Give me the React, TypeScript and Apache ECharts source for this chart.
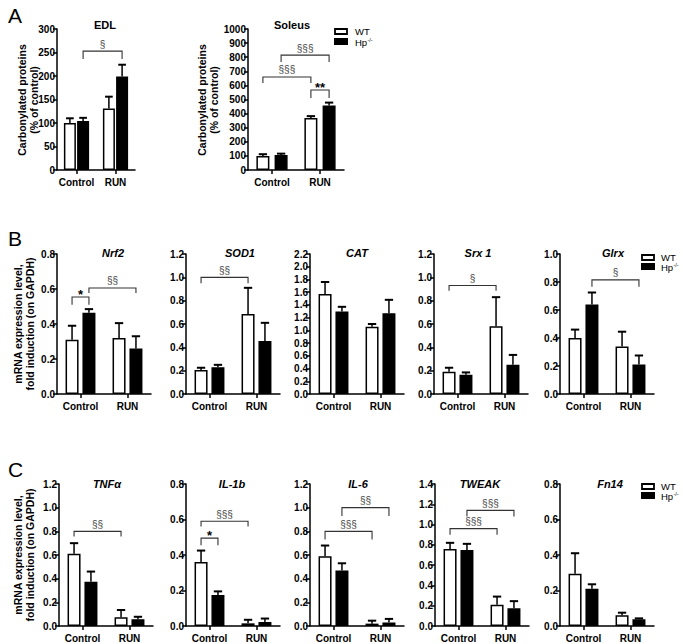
import React, { useEffect, useRef } from 'react';
import * as echarts from 'echarts';

const FONT = 'Arial, "Liberation Sans", Helvetica, sans-serif';

// ---------- data ----------
const categories = ['Control', 'RUN'];
const seriesNames = ['WT', 'Hp-/-'];

// Panel A: carbonylated proteins (% of control)
const titlesA = ['EDL', 'Soleus'];
const yMaxA = [300, 1000];
const yStepA = [50, 100];
const wtA = [[100, 131], [100, 368]];
const hpA = [[104, 199], [106, 458]];
const wtUpA = [[110, 156], [112, 382]];
const hpUpA = [[111, 224], [116, 478]];
// [cat1, group1, cat2, group2, lineValue, tickEndValue, label]
const bracketsA: any[][] = [
  [[0, 1, 1, 1, 253, 236, '§']],
  [[0, 1, 1, 1, 815, 766, '§§§'], [0, 0, 1, 0, 660, 617, '§§§'], [1, 0, 1, 1, 567, 510, '**']],
];

// Panel B: antioxidant genes
const genesB = ['Nrf2', 'SOD1', 'CAT', 'Srx 1', 'Glrx'];
const yMaxB = [0.8, 1.2, 2.2, 1.2, 1.0];
const wtB = [[0.31, 0.32], [0.205, 0.685], [1.57, 1.055], [0.19, 0.58], [0.40, 0.34]];
const hpB = [[0.465, 0.26], [0.23, 0.455], [1.295, 1.27], [0.165, 0.25], [0.64, 0.21]];
const wtUpB = [[0.39, 0.405], [0.225, 0.91], [1.76, 1.10], [0.225, 0.83], [0.46, 0.445]];
const hpUpB = [[0.485, 0.33], [0.25, 0.61], [1.37, 1.48], [0.185, 0.335], [0.725, 0.275]];
const bracketsB: any[][] = [
  [[0, 0, 0, 1, 0.554, 0.51, '*'], [0, 1, 1, 1, 0.606, 0.577, '§§']],
  [[0, 0, 1, 0, 1.0, 0.95, '§§']],
  [],
  [[0, 0, 1, 0, 0.93, 0.885, '§']],
  [[0, 1, 1, 1, 0.815, 0.766, '§']],
];

// Panel C: inflammatory genes
const genesC = ['TNFα', 'IL-1b', 'IL-6', 'TWEAK', 'Fn14'];
const yMaxC = [1.2, 0.8, 1.2, 1.4, 0.8];
const wtC = [[0.61, 0.075], [0.36, 0.015], [0.59, 0.02], [0.76, 0.21], [0.295, 0.06]];
const hpC = [[0.375, 0.058], [0.175, 0.022], [0.47, 0.03], [0.75, 0.175], [0.21, 0.038]];
const wtUpC = [[0.70, 0.135], [0.425, 0.035], [0.68, 0.045], [0.82, 0.29], [0.41, 0.075]];
const hpUpC = [[0.46, 0.078], [0.195, 0.042], [0.53, 0.06], [0.81, 0.245], [0.235, 0.043]];
const bracketsC: any[][] = [
  [[0, 0, 1, 0, 0.8, 0.757, '§§']],
  [[0, 0, 0, 1, 0.495, 0.455, '*'], [0, 0, 1, 0, 0.59, 0.56, '§§§']],
  [[0, 0, 1, 0, 0.8, 0.73, '§§§'], [0, 1, 1, 1, 1.0, 0.93, '§§']],
  [[0, 0, 1, 0, 0.96, 0.9, '§§§'], [0, 1, 1, 1, 1.14, 1.08, '§§§']],
  [],
];

const yNameA = 'Carbonylated proteins\n(% of control)';
const yNameBC = 'mRNA expression level,\nfold induction (on GAPDH)';
const panelLetters = ['A', 'B', 'C'];

// ---------- layout ----------
const leftsA = [57, 248];
const widthsA = [78, 96];
const barWA = [12, 13];
const gapA = [0.1, 0.4];
const titleXA = [105, 292];
const leftsB = [57, 186, 310, 434, 560];
const leftsC = [59, 186, 310, 435, 560];
const titleXB = [113, 240, 357, 478, 613];
const titleXC = [107, 232, 358, 480, 610];
const letterY = [15, 238, 469];
// y-axis name blocks: [centerX, centerY, text]
const yNames: [number, number, string][] = [
  [28, 100, yNameA],
  [208, 100, yNameA],
  [24, 324, yNameBC],
  [24, 555, yNameBC],
];
// legend anchors: [boxX, wtBoxY, hpBoxY, textX]
const legendPos = [
  [335, 29, 38, 355],
  [642, 255, 263, 661],
  [642, 484, 492, 661],
];

function buildOption() {
  const specs: any[] = [];
  titlesA.forEach((t, i) => specs.push({
    title: t, titleX: titleXA[i], titleY: 25, italic: false,
    left: leftsA[i], top: 29, width: widthsA[i], height: 141,
    max: yMaxA[i], step: yStepA[i], dec: 0,
    wt: wtA[i], hp: hpA[i], wtUp: wtUpA[i], hpUp: hpUpA[i], br: bracketsA[i],
    bw: barWA[i], gap: gapA[i],
  }));
  genesB.forEach((t, i) => specs.push({
    title: t, titleX: titleXB[i], titleY: 253, italic: true,
    left: leftsB[i], top: 254, width: 94, height: 140,
    max: yMaxB[i], step: 0.2, dec: 1,
    wt: wtB[i], hp: hpB[i], wtUp: wtUpB[i], hpUp: hpUpB[i], br: bracketsB[i],
    bw: 13, gap: 0.3,
  }));
  genesC.forEach((t, i) => specs.push({
    title: t, titleX: titleXC[i], titleY: 484, italic: true,
    left: leftsC[i], top: 484, width: 94, height: 142,
    max: yMaxC[i], step: 0.2, dec: 1,
    wt: wtC[i], hp: hpC[i], wtUp: wtUpC[i], hpUp: hpUpC[i], br: bracketsC[i],
    bw: 13, gap: 0.3,
  }));

  const grid: any[] = [];
  const xAxis: any[] = [];
  const yAxis: any[] = [];
  const series: any[] = [];
  const graphic: any[] = [];

  specs.forEach((s, i) => {
    grid.push({ left: s.left, top: s.top, width: s.width, height: s.height, outerBoundsMode: 'none' });
    xAxis.push({
      gridIndex: i, type: 'category', data: categories,
      axisLine: { show: true, lineStyle: { color: '#000', width: 1.5 } },
      axisTick: { show: true, alignWithLabel: true, length: 4, lineStyle: { color: '#000', width: 1.5 } },
      axisLabel: { color: '#000', fontFamily: FONT, fontSize: 10, fontWeight: 'bold', margin: 7, interval: 0 },
      splitLine: { show: false },
    });
    yAxis.push({
      gridIndex: i, type: 'value', min: 0, max: s.max, interval: s.step,
      axisLine: { show: true, lineStyle: { color: '#000', width: 1.5 } },
      axisTick: { show: true, length: 4, lineStyle: { color: '#000', width: 1.5 } },
      axisLabel: {
        color: '#000', fontFamily: FONT, fontSize: 10, fontWeight: 'bold', margin: 2,
        formatter: (v: number) => v.toFixed(s.dec),
      },
      splitLine: { show: false },
    });
    series.push({
      type: 'bar', name: seriesNames[0], xAxisIndex: i, yAxisIndex: i, data: s.wt,
      barWidth: s.bw, barGap: s.gap * 100 + '%', z: 2, silent: true,
      itemStyle: { color: '#fff', borderColor: '#000', borderWidth: 1.5 },
    });
    series.push({
      type: 'bar', name: seriesNames[1], xAxisIndex: i, yAxisIndex: i, data: s.hp,
      barWidth: s.bw, barGap: s.gap * 100 + '%', z: 2, silent: true,
      itemStyle: { color: '#000', borderColor: '#000', borderWidth: 1.5 },
    });
    const off = (s.bw * (1 + s.gap)) / 2;
    const errData: number[][] = [];
    for (let c = 0; c < categories.length; c++) {
      errData.push([c, 0, s.wt[c], s.wtUp[c]]);
      errData.push([c, 1, s.hp[c], s.hpUp[c]]);
    }
    series.push({
      type: 'custom', xAxisIndex: i, yAxisIndex: i, data: errData, z: 3, silent: true,
      encode: { x: 0, y: [2, 3] },
      renderItem: (_p: any, api: any) => {
        const cat = api.value(0);
        const g = api.value(1);
        const a = api.coord([cat, api.value(2)]);
        const b = api.coord([cat, api.value(3)]);
        const x = a[0] + (g === 0 ? -off : off);
        const cw = s.bw * 0.32;
        return {
          type: 'group',
          children: [
            { type: 'line', shape: { x1: x, y1: a[1], x2: x, y2: b[1] }, style: { stroke: '#000', lineWidth: 1.5 } },
            { type: 'line', shape: { x1: x - cw, y1: b[1], x2: x + cw, y2: b[1] }, style: { stroke: '#000', lineWidth: 2 } },
          ],
        };
      },
    });
    if (s.br.length) {
      series.push({
        type: 'custom', xAxisIndex: i, yAxisIndex: i, z: 4, silent: true,
        data: s.br.map((b: any[]) => b.slice(0, 6)),
        encode: { x: 0, y: 4 },
        renderItem: (p: any, api: any) => {
          const c1 = api.value(0), g1 = api.value(1), c2 = api.value(2), g2 = api.value(3);
          const yl = api.coord([c1, api.value(4)])[1];
          const yt = api.coord([c1, api.value(5)])[1];
          const x1 = api.coord([c1, 0])[0] + (g1 === 0 ? -off : off);
          const x2 = api.coord([c2, 0])[0] + (g2 === 0 ? -off : off);
          const label = s.br[p.dataIndex][6];
          const star = label.indexOf('*') >= 0;
          return {
            type: 'group',
            children: [
              { type: 'polyline', shape: { points: [[x1, yt], [x1, yl], [x2, yl], [x2, yt]] }, style: { stroke: '#333', lineWidth: 1.1, fill: 'none' } },
              {
                type: 'text', x: (x1 + x2) / 2, y: star ? yl + 4 : yl - 2,
                style: {
                  text: label, align: 'center', verticalAlign: 'bottom',
                  fontFamily: FONT, fontSize: star ? 13 : 10, fontWeight: star ? 'bold' : 'normal',
                  fill: star ? '#000' : '#444',
                },
              },
            ],
          };
        },
      });
    }
    graphic.push({
      type: 'text', x: s.titleX, y: s.titleY, silent: true,
      style: {
        text: s.title, align: 'center', verticalAlign: 'middle', fill: '#000',
        fontFamily: FONT, fontSize: 11, fontWeight: 'bold', fontStyle: s.italic ? 'italic' : 'normal',
      },
    });
  });

  panelLetters.forEach((t, i) => {
    graphic.push({
      type: 'text', x: 8, y: letterY[i], silent: true,
      style: { text: t, align: 'left', verticalAlign: 'middle', fill: '#000', fontFamily: FONT, fontSize: 21 },
    });
  });

  yNames.forEach(([cx, cy, text]) => {
    graphic.push({
      type: 'text', x: cx, y: cy, rotation: Math.PI / 2, silent: true,
      style: {
        text, align: 'center', verticalAlign: 'middle', fill: '#000',
        fontFamily: FONT, fontSize: 10.5, fontWeight: 'bold', lineHeight: 12,
      },
    });
  });

  legendPos.forEach(([bx, wy, hy, tx]) => {
    graphic.push({ type: 'rect', silent: true, shape: { x: bx, y: wy, width: 12, height: 5 }, style: { fill: '#fff', stroke: '#000', lineWidth: 1.8 } });
    graphic.push({ type: 'rect', silent: true, shape: { x: bx - 1, y: hy, width: 14, height: 7 }, style: { fill: '#000' } });
    graphic.push({
      type: 'text', x: tx, y: wy + 2, silent: true,
      style: { text: seriesNames[0], align: 'left', verticalAlign: 'middle', fill: '#000', fontFamily: FONT, fontSize: 9.5 },
    });
    graphic.push({
      type: 'text', x: tx, y: hy + 4.5, silent: true,
      style: { text: 'Hp', align: 'left', verticalAlign: 'middle', fill: '#000', fontFamily: FONT, fontSize: 9.5 },
    });
    graphic.push({
      type: 'text', x: tx + 12.5, y: hy + 2.2, silent: true,
      style: { text: '-/-', align: 'left', verticalAlign: 'middle', fill: '#000', fontFamily: FONT, fontSize: 5.5 },
    });
  });

  return {
    animation: false,
    backgroundColor: '#fff',
    grid, xAxis, yAxis, series, graphic,
    tooltip: { show: false },
  };
}

export default function App() {
  const ref = useRef<HTMLDivElement>(null);
  useEffect(() => {
    document.body.style.margin = '0';
    if (!ref.current) return;
    const chart = echarts.init(ref.current, undefined, { renderer: 'svg' });
    chart.setOption(buildOption() as any);
    return () => chart.dispose();
  }, []);
  return <div ref={ref} style={{ width: 683, height: 644, background: '#fff' }} />;
}
